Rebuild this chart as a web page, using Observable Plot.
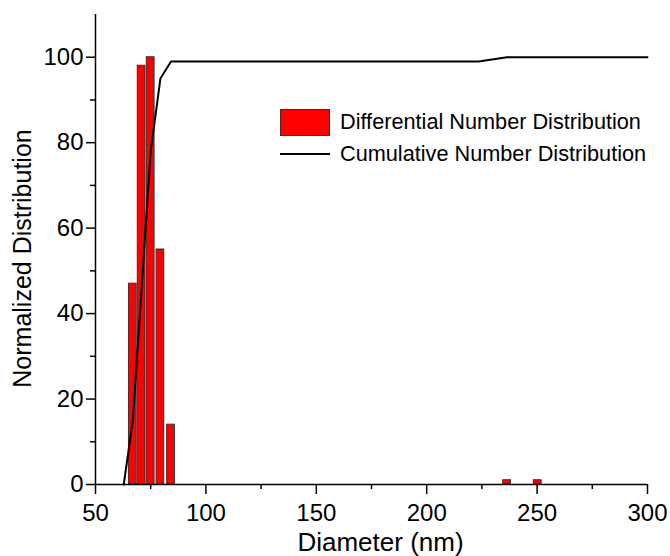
<!DOCTYPE html>
<html>
<head>
<meta charset="utf-8">
<script src="https://cdn.jsdelivr.net/npm/d3@7"></script>
<script src="https://cdn.jsdelivr.net/npm/@observablehq/plot@0.6"></script>
<style>
  body { margin: 0; background: white; }
  #wrap { position: relative; width: 670px; height: 556px; font-family: "Liberation Sans", Arial, sans-serif; }
  #legend { position: absolute; left: 280px; top: 109px; color: black; font-size: 21.7px; }
  .row { position: absolute; left: 0; white-space: nowrap; }
  .sw { position: absolute; left: 0; width: 48px; height: 25px; background: #ff0000; border: 1px solid #333; }
  .ln { position: absolute; left: 0; width: 50px; height: 0; border-top: 2px solid black; }
  .lab { position: absolute; left: 60px; line-height: 26px; }
</style>
</head>
<body>
<div id="wrap"></div>
<script>
// Differential number distribution (bin centers, nm) and heights
const diameters = [66.9, 70.9, 75.0, 79.4, 84.2, 236.4, 250.3];
const differential = [47, 98, 100, 55, 14, 1, 1];
const binWidth = 3.5;

// Cumulative number distribution
const cumDiameters = [62.8, 66.9, 70.9, 75.0, 79.4, 84.2, 223.5, 236.4, 300];
const cumulative = [0, 15, 46, 78, 95, 99, 99, 100, 100];

// Tick values
const xMajor = [50, 100, 150, 200, 250, 300];
const xMinor = [75, 125, 175, 225, 275];
const yMajor = [0, 20, 40, 60, 80, 100];
const yMinor = [10, 30, 50, 70, 90];

const legendLabels = ["Differential Number Distribution", "Cumulative Number Distribution"];

const bars = diameters.map((d, i) => ({x1: d - binWidth / 2, x2: d + binWidth / 2, v: differential[i]}));
const cum = cumDiameters.map((d, i) => ({d, v: cumulative[i]}));

const chart = Plot.plot({
  width: 670,
  height: 556,
  marginLeft: 95,
  marginRight: 23,
  marginTop: 14,
  marginBottom: 72,
  style: {fontFamily: '"Liberation Sans", Arial, sans-serif', color: "black", background: "white", overflow: "visible"},
  x: {domain: [50, 300]},
  y: {domain: [0, 110]},
  marks: [
    Plot.rectY(bars, {x1: "x1", x2: "x2", y: "v", fill: "#ff0000", stroke: "#333", strokeWidth: 1}),
    Plot.line(cum, {x: "d", y: "v", stroke: "black", strokeWidth: 2}),
    Plot.ruleY([0], {stroke: "black", strokeWidth: 1.5}),
    Plot.ruleX([50], {stroke: "black", strokeWidth: 1.5}),
    Plot.axisX({ticks: xMajor, tickSize: 10, tickPadding: 9, fontSize: 24, label: null, strokeWidth: 1.5}),
    Plot.axisX({ticks: xMinor, tickSize: 5, tickFormat: () => "", label: null, strokeWidth: 1.5}),
    Plot.axisY({ticks: yMajor, tickSize: 9, tickPadding: 3, fontSize: 24, label: null, strokeWidth: 1.5}),
    Plot.axisY({ticks: yMinor, tickSize: 5, tickFormat: () => "", label: null, strokeWidth: 1.5}),
    Plot.text(["Diameter (nm)"], {frameAnchor: "bottom", dx: 9, dy: 66, lineAnchor: "bottom", fontSize: 26, fill: "black"}),
    Plot.text(["Normalized Distribution"], {frameAnchor: "left", textAnchor: "middle", rotate: -90, dx: -73, dy: 9, fontSize: 25, fill: "black"})
  ]
});

const wrap = document.getElementById("wrap");
wrap.appendChild(chart);

const legend = document.createElement("div");
legend.id = "legend";
legend.innerHTML =
  `<div class="row" style="top:0px"><div class="sw"></div><div class="lab" style="top:0px">${legendLabels[0]}</div></div>` +
  `<div class="row" style="top:32px"><div class="ln" style="top:12px"></div><div class="lab" style="top:0px">${legendLabels[1]}</div></div>`;
wrap.appendChild(legend);
</script>
</body>
</html>
